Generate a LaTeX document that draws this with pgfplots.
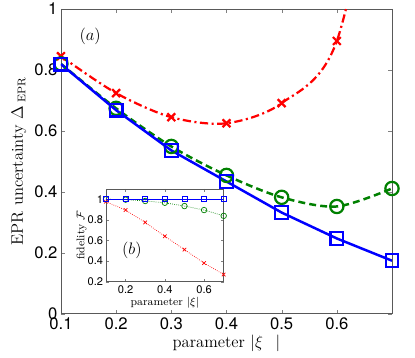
\documentclass[border=0pt]{standalone}
\usepackage{fontspec}
\setsansfont{TeX Gyre Heros}
\usepackage{pgfplots}
\pgfplotsset{compat=1.18}
\definecolor{mgreen}{rgb}{0,0.5,0}

\begin{document}
\begin{tikzpicture}

\begin{axis}[
    name=main,
    width=239pt, height=220pt, scale only axis,
    xmin=0.1, xmax=0.7, ymin=0, ymax=1,
    xtick={0.1,0.2,0.3,0.4,0.5,0.6,0.7},
    xticklabels={0.1,0.2,0.3,0.4,0.5,0.6,},
    ytick={0,0.2,0.4,0.6,0.8,1},
    yticklabels={0,0.2,0.4,0.6,0.8,1},
    tick align=inside, tick pos=both,
    major tick length=3pt,
    tick label style={font=\sffamily\large},
    xticklabel style={yshift=1pt},
    yticklabel style={xshift=1pt},
    axis line style={gray!70!black},
    label style={font=\large},
    xlabel={parameter $|\xi\ \;\,|$},
    ylabel={EPR uncertainty $\Delta_{\;\scriptstyle\mathrm{EPR}}$},
    xlabel style={yshift=3pt},
    ylabel style={yshift=-1pt},
    clip=true,
]
\addplot[red, line width=1.6pt, smooth, dash pattern=on 6pt off 2.5pt on 1.5pt off 2.5pt,
    mark=x, mark size=4pt, mark indices={1,2,3,4,5,6},
    mark options={solid, line width=1.6pt}] coordinates {
    (0.1,0.845) (0.2,0.724) (0.3,0.645) (0.4,0.625) (0.5,0.691) (0.6,0.895) (0.7,1.7)
};
\addplot[mgreen, line width=1.8pt, smooth, dash pattern=on 5pt off 3pt,
    mark=o, mark size=4.8pt, mark options={solid, line width=1.6pt}] coordinates {
    (0.1,0.82) (0.2,0.674) (0.3,0.549) (0.4,0.454) (0.5,0.382) (0.6,0.352) (0.7,0.411)
};
\addplot[blue, line width=1.8pt,
    mark=square, mark size=4.6pt, mark options={solid, line width=1.6pt}] coordinates {
    (0.1,0.819) (0.2,0.668) (0.3,0.536) (0.4,0.434) (0.5,0.332) (0.6,0.247) (0.7,0.174)
};
\node[font=\large] at (axis cs:0.153,0.91) {$(a)$};
\end{axis}

\begin{axis}[
    at={(32.5pt,23.1pt)}, anchor=south west,
    width=85pt, height=67pt, scale only axis,
    xmin=0.1, xmax=0.7, ymin=0.2, ymax=1.1,
    xtick={0.2,0.4,0.6},
    xticklabels={0.2,0.4,0.6},
    ytick={0.2,0.4,0.6,0.8,1},
    yticklabels={0.2,0.4,0.6,0.8,1},
    tick align=inside, tick pos=both,
    major tick length=2pt,
    tick label style={font=\sffamily\footnotesize},
    xticklabel style={yshift=1pt},
    yticklabel style={xshift=1.5pt},
    axis line style={gray!70!black},
    axis background/.style={fill=white},
    label style={font=\footnotesize},
    xlabel={parameter $|\xi|$},
    ylabel={fidelity $\mathcal{F}$},
    xlabel style={yshift=4pt},
    ylabel style={yshift=-6pt},
]
\addplot[red, line width=0.5pt, densely dotted,
    mark=x, mark size=1.8pt, mark options={solid}] coordinates {
    (0.1,0.976) (0.2,0.895) (0.3,0.775) (0.4,0.641) (0.5,0.511) (0.6,0.381) (0.7,0.27)
};
\addplot[mgreen, line width=0.5pt, densely dotted,
    mark=o, mark size=2pt, mark options={solid}] coordinates {
    (0.1,1.0) (0.2,0.996) (0.3,0.983) (0.4,0.966) (0.5,0.934) (0.6,0.895) (0.7,0.839)
};
\addplot[blue, line width=0.6pt,
    mark=square, mark size=1.8pt, mark options={solid}] coordinates {
    (0.1,1.0) (0.2,1.0) (0.3,1.0) (0.4,1.0) (0.5,1.0) (0.6,1.0) (0.7,1.0)
};
\node[font=\large] at (axis cs:0.232,0.5) {$(b)$};
\end{axis}

\pgfresetboundingbox
\path (-44pt,-31.8pt) rectangle (255.6pt,226.5pt);
\end{tikzpicture}
\end{document}
